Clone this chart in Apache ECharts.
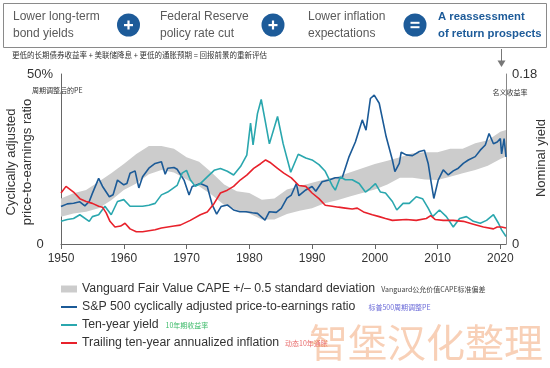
<!DOCTYPE html>
<html><head><meta charset="utf-8">
<script src="https://cdn.jsdelivr.net/npm/echarts@6/dist/echarts.min.js"></script>
<style>html,body{margin:0;padding:0;background:#fff}#c{width:550px;height:368px}</style>
</head><body><div id="c"></div>
<script>
// ---- data ----
const xTicks = [1950, 1960, 1970, 1980, 1990, 2000, 2010, 2020];
const leftTicks = [0, 50];
const rightTicks = [0, 18];

const bandYears = [1950,1952,1954,1956,1958,1960,1962,1964,1966,1968,1970,1972,1974,1976,1978,1980,1982,1984,1986,1988,1990,1992,1994,1996,1998,2000,2002,2004,2006,2008,2010,2012,2014,2016,2018,2020,2020.9];
const bandLow  = [8.0,9.0,9.5,10.5,12.9,15.9,17.8,20.5,21.8,21,19,17,14.5,11.5,10,9,7.2,7.2,8.8,9.8,10.5,12,12.9,14,15,16,17.5,19.5,19.5,19,18.8,19.8,20.8,21.8,23,25,25.7];
const bandHigh = [13.4,14.9,15.9,18.3,20.8,23.5,26.5,28.8,28.8,28,25.5,24.2,21,17.5,15.5,15,13,13.4,16,17,18,19,19.8,21,22.3,23.5,24.5,25.5,26.7,27,27,28,28,29.6,30.5,33,33.5];

const cape = [[1950,11],[1951,11.8],[1952,12],[1953,12.4],[1953.8,11.2],[1954.5,12.5],[1955,14.9],[1956,19.3],[1956.6,17],[1957.7,13.9],[1958.3,14.5],[1959,18.8],[1960,17.4],[1960.5,17.8],[1961,20.8],[1961.8,21.5],[1962.4,16.5],[1963,19.8],[1964,22.3],[1965,23.7],[1966,24.2],[1966.6,20.5],[1967,22.3],[1968,22.5],[1968.5,22],[1969.6,18.8],[1970.4,14.4],[1970.9,16.9],[1972.2,17.8],[1973.3,16.9],[1974.1,11.5],[1974.8,8.8],[1975.5,11],[1976.5,11.5],[1977.5,10],[1978.5,9.5],[1979.5,9.5],[1980.5,9.2],[1981.3,9],[1982.5,7],[1983.2,9.5],[1984.3,9.3],[1985.1,10.5],[1986,13.5],[1986.7,14.4],[1987.5,17.8],[1987.9,14.2],[1989,15.9],[1990,16.9],[1990.6,15.5],[1991.6,18.3],[1992.7,18.8],[1993.7,19.5],[1994.8,19.5],[1995.9,25.7],[1996.9,30],[1998,36.5],[1998.6,33.5],[1999.3,42.8],[1999.9,43.8],[2000.7,41.4],[2001.8,31.6],[2002.8,24.7],[2003.2,21.3],[2003.9,23.7],[2004.2,27],[2005,26.2],[2006,26],[2007.1,27.2],[2007.9,27.6],[2008.5,23.7],[2009,17.8],[2009.4,13.4],[2010.1,18.8],[2010.9,21.8],[2011.7,20.3],[2012.5,21.5],[2013.3,22.3],[2014.1,23.7],[2014.9,24.7],[2016,25.7],[2016.8,27.6],[2017.6,29.1],[2018.2,32.5],[2018.9,29.5],[2019.5,30],[2020,31],[2020.2,26.5],[2020.6,31],[2020.9,25.6]];

const tenYearYield = [[1950,2.4],[1951,2.6],[1952,2.7],[1953,3.1],[1954.5,2.4],[1955,2.9],[1956,3.1],[1957,4.0],[1958,3.1],[1959,4.5],[1960,4.7],[1961,4.0],[1962,4.0],[1963,4.0],[1964,4.1],[1965,4.3],[1966,5.2],[1967,5.5],[1968.5,6.2],[1969.3,7.5],[1970,7.8],[1970.6,6.8],[1971.4,6.1],[1972.2,6.4],[1973.3,7.1],[1974.4,7.8],[1975.4,8.0],[1976.5,7.7],[1977.5,7.3],[1978.6,8.2],[1979.6,9.4],[1980.2,12.8],[1980.6,10.5],[1981.3,13.8],[1981.9,15.3],[1982.6,12.8],[1983.2,10.6],[1984.5,13.5],[1985.4,10.6],[1986.6,7.6],[1987.8,9.5],[1989,9.1],[1990,8.9],[1991.1,8.4],[1992.1,7.7],[1993.2,6.2],[1993.7,5.7],[1994.5,7.1],[1995.3,6.8],[1996.4,6.8],[1997.5,6.4],[1998.5,5.5],[1999.3,5.9],[2000.1,6.4],[2000.9,5.5],[2001.7,5.4],[2002.8,4.5],[2003.5,3.6],[2004.5,4.3],[2005.5,4.3],[2006.6,5.0],[2007.6,4.8],[2008.5,3.8],[2009.2,2.9],[2010.3,3.6],[2011.4,2.9],[2012.5,1.8],[2013.5,2.7],[2014.6,2.9],[2015.7,2.4],[2016.8,2.2],[2017.8,2.5],[2018.9,3.1],[2019.7,2.2],[2020.2,1.5],[2020.9,0.8]];

const inflation = [[1950,5.4],[1950.8,6.1],[1952,5.5],[1953,4.8],[1954,4.5],[1955,4.3],[1956,4.0],[1956.6,3.9],[1957.2,3.3],[1957.8,2.4],[1958.6,1.8],[1959.5,1.9],[1960.2,2.2],[1961,1.6],[1962,1.3],[1963,1.3],[1964,1.4],[1965,1.5],[1966,1.7],[1967,1.8],[1968,1.9],[1969,2.0],[1970.6,2.5],[1972.2,3.1],[1973.3,3.4],[1974.4,4.3],[1975.4,5.4],[1976.5,5.7],[1977.5,6.1],[1978.6,6.8],[1979.6,7.3],[1980.7,8.0],[1981.8,8.5],[1982.6,8.9],[1983.4,8.6],[1984.5,8.0],[1985.5,7.5],[1986.7,7.0],[1987.9,6.2],[1989,6.1],[1990,5.4],[1991.1,4.8],[1992.1,4.1],[1993.2,4.0],[1994.2,3.9],[1995.3,3.8],[1996.4,3.7],[1997.2,3.8],[1998.2,3.4],[1999.6,3.1],[2000.7,2.9],[2001.7,2.7],[2002.8,2.5],[2005,2.6],[2006.6,2.5],[2008.2,2.7],[2008.9,3.0],[2009.6,2.6],[2010.9,2.5],[2012.5,2.5],[2014.1,2.4],[2015.7,2.1],[2017.3,1.8],[2018.9,1.6],[2019.5,1.8],[2020.2,1.8],[2020.9,1.7]];

const seriesNames = [
  'Vanguard Fair Value CAPE +/\u2013 0.5 standard deviation',
  'S&P 500 cyclically adjusted price-to-earnings ratio',
  'Ten-year yield',
  'Trailing ten-year annualized inflation'
];
const seriesNotesCn = ['Vanguard公允价值CAPE标准偏差', '标普500周期调整PE', '10年期收益率', '动态10年通胀'];
const colors = ['#cccccc', '#1b5a97', '#2aa7ae', '#e8212b'];

// ---- chart ----
const chart = echarts.init(document.getElementById('c'), null, {renderer: 'canvas'});
const FONT = '"Liberation Sans", Arial, sans-serif';
const CJK = '"Noto Sans CJK SC", sans-serif';
const bandData = bandYears.map((y, i) => [y, bandLow[i], bandHigh[i]]);

const rich = {
  m: {fontSize: 12.3, fontFamily: FONT, color: '#333', lineHeight: 14},
  c0: {fontSize: 7, fontFamily: CJK, color: '#444', padding: [0, 0, 0, 6], lineHeight: 14},
  c1: {fontSize: 7, fontFamily: CJK, color: '#6a6ad8', padding: [0, 0, 0, 13], lineHeight: 14},
  c2: {fontSize: 7, fontFamily: CJK, color: '#3dbb6a', padding: [0, 0, 0, 7], lineHeight: 14},
  c3: {fontSize: 7, fontFamily: CJK, color: '#e86a6a', padding: [0, 0, 0, 6], lineHeight: 14}
};

function circle(cx, sym) {
  const els = [{type: 'circle', shape: {cx: cx, cy: 25, r: 11.5}, style: {fill: '#1d5b99'}}];
  if (sym === '+') {
    els.push({type: 'rect', shape: {x: cx - 4.5, y: 24, width: 9, height: 2.2}, style: {fill: '#fff'}});
    els.push({type: 'rect', shape: {x: cx - 1.1, y: 20.5, width: 2.2, height: 9}, style: {fill: '#fff'}});
  } else {
    els.push({type: 'rect', shape: {x: cx - 4.5, y: 21.8, width: 9, height: 2}, style: {fill: '#fff'}});
    els.push({type: 'rect', shape: {x: cx - 4.5, y: 26.2, width: 9, height: 2}, style: {fill: '#fff'}});
  }
  return els;
}
function txt(x, y, t, o) {
  return Object.assign({type: 'text', x: x, y: y, style: Object.assign({text: t, fontFamily: FONT, fontSize: 12, fill: '#5a5a5a', textVerticalAlign: 'top', lineHeight: 16.6}, o || {})});
}

const graphics = [
  {type: 'rect', shape: {x: 3.5, y: 3.5, width: 543, height: 44}, style: {fill: 'none', stroke: '#8a8a8a', lineWidth: 1}},
  txt(13, 8.5, 'Lower long-term\nbond yields'),
  txt(160, 8.5, 'Federal Reserve\npolicy rate cut'),
  txt(308, 8.5, 'Lower inflation\nexpectations'),
  txt(438, 8.5, 'A reassessment\nof return prospects', {fontWeight: 'bold', fill: '#1d5b99', fontSize: 11.3}),
  ...circle(128.5, '+'), ...circle(273, '+'), ...circle(415, '='),
  txt(12, 51, '更低的长期债券收益率 + 美联储降息 + 更低的通胀预期 = 回报前景的重新评估', {fontFamily: CJK, fontSize: 7.5, fill: '#333', lineHeight: 9}),
  {type: 'line', shape: {x1: 501.5, y1: 49, x2: 501.5, y2: 62}, style: {stroke: '#777', lineWidth: 1}},
  {type: 'polygon', shape: {points: [[497.5, 60.5], [505.5, 60.5], [501.5, 67]]}, style: {fill: '#777'}},
  txt(32, 86, '周期调整后的PE', {fontFamily: CJK, fontSize: 7, fill: '#333', lineHeight: 9}),
  txt(510, 88, '名义收益率', {fontFamily: CJK, fontSize: 7, fill: '#333', lineHeight: 9, textAlign: 'center'}),
  {type: 'text', x: 19, y: 162, rotation: Math.PI / 2, style: {text: 'Cyclically adjusted\nprice-to-earnings ratio', fontFamily: FONT, fontSize: 13, fill: '#333', textAlign: 'center', textVerticalAlign: 'middle', lineHeight: 16}},
  {type: 'text', x: 541.5, y: 158, rotation: Math.PI / 2, style: {text: 'Nominal yield', fontFamily: FONT, fontSize: 13, fill: '#333', textAlign: 'center', textVerticalAlign: 'middle'}},
  {type: 'text', x: 309, y: 323, z: 100, style: {text: '智堡汉化整理', fontFamily: CJK, fontSize: 39, fill: 'rgba(240,150,95,0.45)', textVerticalAlign: 'top'}}
];

const option = {
  animation: false,
  backgroundColor: '#fff',
  textStyle: {fontFamily: FONT},
  grid: {left: 61, right: 44, top: 74, bottom: 124, containLabel: false},
  xAxis: {
    type: 'value', min: 1950, max: 2020.9, interval: 10,
    axisLine: {lineStyle: {color: '#666', width: 1}},
    axisTick: {show: true, length: 5, lineStyle: {color: '#666'}, customValues: xTicks},
    axisLabel: {color: '#333', fontSize: 12, margin: 9, customValues: xTicks, formatter: v => String(v)},
    splitLine: {show: false}
  },
  yAxis: [
    {type: 'value', min: 0, max: 50, interval: 50, position: 'left',
     axisLine: {show: true, lineStyle: {color: '#666'}}, axisTick: {show: false}, splitLine: {show: false},
     axisLabel: {color: '#333', fontSize: 13, align: 'center', margin: 21, customValues: leftTicks, formatter: v => v === 50 ? '50%' : '0'}},
    {type: 'value', min: 0, max: 18, interval: 18, position: 'right',
     axisLine: {show: true, lineStyle: {color: '#888'}}, axisTick: {show: false}, splitLine: {show: false},
     axisLabel: {color: '#333', fontSize: 13, align: 'left', margin: 6, customValues: rightTicks, formatter: v => v === 18 ? '0.18' : '0'}}
  ],
  legend: {
    orient: 'vertical', left: 61, top: 283, padding: 0, itemGap: 6, itemWidth: 16, itemHeight: 7,
    selectedMode: false,
    data: [
      {name: seriesNames[0], icon: 'rect'},
      {name: seriesNames[1], icon: 'path://M0,0H16V2H0Z'},
      {name: seriesNames[2], icon: 'path://M0,0H16V2H0Z'},
      {name: seriesNames[3], icon: 'path://M0,0H16V2H0Z'}
    ],
    formatter: function (name) {
      const i = seriesNames.indexOf(name);
      return '{m|' + name + '}{c' + i + '|' + seriesNotesCn[i] + '}';
    },
    textStyle: {rich: rich}
  },
  graphic: graphics,
  series: [
    {
      type: 'custom', name: seriesNames[0], color: colors[0], xAxisIndex: 0, yAxisIndex: 0,
      data: bandData, encode: {x: 0, y: [1, 2]}, silent: true,
      renderItem: function (params, api) {
        if (params.dataIndex !== 0) return null;
        const up = bandData.map(d => api.coord([d[0], d[2]]));
        const lo = bandData.map(d => api.coord([d[0], d[1]])).reverse();
        return {type: 'polygon', shape: {points: up.concat(lo)}, style: {fill: colors[0]}};
      }
    },
    {type: 'line', name: seriesNames[1], color: colors[1], yAxisIndex: 0, data: cape, symbol: 'none', lineStyle: {width: 1.6, color: colors[1]}},
    {type: 'line', name: seriesNames[2], color: colors[2], yAxisIndex: 1, data: tenYearYield, symbol: 'none', lineStyle: {width: 1.6, color: colors[2]}},
    {type: 'line', name: seriesNames[3], color: colors[3], yAxisIndex: 1, data: inflation, symbol: 'none', lineStyle: {width: 1.6, color: colors[3]}}
  ]
};
chart.setOption(option);
</script></body></html>
